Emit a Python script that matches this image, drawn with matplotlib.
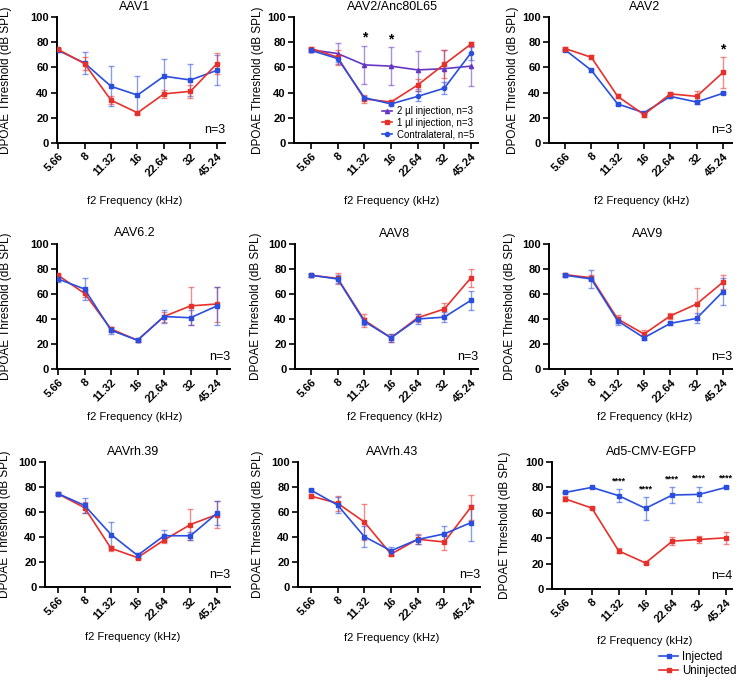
import matplotlib
matplotlib.use("Agg")
import matplotlib.pyplot as plt
import numpy as np

plt.rcParams['font.family'] = ['Liberation Sans', 'DejaVu Sans']

# ---------------- data ----------------
freqs = ["5.66", "8", "11.32", "16", "22.64", "32", "45.24"]

aav1_blue = [73.5, 63.5, 45, 38, 53, 50, 57.7]
aav1_blue_err = [1, 8.5, 16, 15, 14, 13, 12]
aav1_red = [74.3, 63, 34, 24, 39, 41, 63]
aav1_red_err = [1, 5, 3, 1, 3, 5, 8.5]

anc_purple = [74, 71, 62, 61, 58, 59, 61]
anc_purple_err = [1.5, 8.5, 15, 15, 15, 14.5, 15.5]
anc_red = [75, 68, 35, 32.5, 46, 62.5, 78.5]
anc_red_err = [1, 6, 3, 2, 5, 11, 1.5]
anc_blue = [73.5, 67, 36, 31, 37, 43.5, 71.5]
anc_blue_err = [1, 3, 1.5, 2, 4, 5, 6]
anc_labels = ["2 \u00b5l injection, n=3", "1 \u00b5l injection, n=3", "Contralateral, n=5"]

aav2_blue = [74, 57.7, 31, 24, 37, 32.5, 39.5]
aav2_blue_err = [1, 1, 1, 1, 1, 1.5, 1]
aav2_red = [75, 68, 37, 22.5, 39, 37, 56]
aav2_red_err = [1, 1.5, 1.5, 1.5, 1.5, 4.5, 12]

aav62_blue = [72, 64, 31, 23, 42, 41, 50.5]
aav62_blue_err = [2, 9, 3, 1, 5, 6, 15]
aav62_red = [75, 60.5, 32, 23, 42, 50.5, 52]
aav62_red_err = [1, 3, 2, 1, 4, 15, 14]

aav8_blue = [75, 72, 38, 25, 40, 41.5, 55]
aav8_blue_err = [1, 3, 3, 3, 4, 4, 7.5]
aav8_red = [75, 72.5, 39, 25, 41, 48, 73]
aav8_red_err = [1, 4.5, 5, 3, 3, 4.5, 7]

aav9_blue = [75, 72, 38.5, 25, 36.5, 40.5, 62]
aav9_blue_err = [1, 7, 3, 2, 1.5, 4, 11]
aav9_red = [75.5, 73, 40, 28, 42.5, 52, 69.5]
aav9_red_err = [1, 2, 3.5, 3, 2.5, 13, 5.5]

rh39_blue = [74.7, 65.3, 42, 25.3, 41, 41, 59]
rh39_blue_err = [1, 6, 10, 2, 4.5, 3, 9.5]
rh39_red = [74.5, 63.5, 31, 23.5, 37.5, 50, 58]
rh39_red_err = [1, 4.5, 2, 1, 2, 12.5, 10.5]

rh43_blue = [77.5, 65.5, 40.3, 29, 38, 42.5, 51.5]
rh43_blue_err = [1, 6.5, 8.5, 3, 3.5, 6, 14.5]
rh43_red = [72.7, 67, 52, 26.3, 38.2, 36, 64]
rh43_red_err = [1.5, 6, 14.5, 1.5, 4, 6, 10]

ad5_injected = [76, 80, 73.5, 63.5, 74, 74.5, 80]
ad5_injected_err = [0.5, 0.5, 5, 9, 6, 6, 0.8]
ad5_uninjected = [71, 63.7, 30, 20.5, 37.7, 39, 40.3]
ad5_uninjected_err = [2, 0.8, 2, 0.8, 3, 3, 4.5]
ad5_labels = ["Injected", "Uninjected"]

# ---------------- style ----------------
BLUE = '#2a4ee0'
RED = '#e8302b'
PURPLE = '#6636c4'
W, H = 741, 681

fig = plt.figure(figsize=(W / 100, H / 100), dpi=100)


def px_text(x, y, s, **kw):
    fig.text(x / W, 1 - y / H, s, **kw)


def make_panel(left, right, top, bottom, p0, p6):
    ax = fig.add_axes([left / W, 1 - bottom / H, (right - left) / W, (bottom - top) / H])
    sp = (p6 - p0) / 6.0
    ax.set_xlim((left - p0) / sp, (right - p0) / sp)
    ax.set_ylim(0, 100)
    for s in ['top', 'right']:
        ax.spines[s].set_visible(False)
    for s in ['left', 'bottom']:
        ax.spines[s].set_linewidth(1.4)
    ax.set_xticks(range(len(freqs)))
    ax.set_xticklabels(freqs, rotation=45, ha='right', rotation_mode='anchor',
                       fontsize=8, fontweight='bold')
    ax.set_yticks([0, 20, 40, 60, 80, 100])
    ax.set_yticklabels(['0', '20', '40', '60', '80', '100'], fontsize=8, fontweight='bold')
    ax.tick_params(axis='both', length=4, width=1.2, pad=2)
    return ax


def err_series(ax, vals, errs, color, marker='s', label=None):
    x = np.arange(len(vals))
    ax.errorbar(x, vals, yerr=errs, fmt='none', ecolor=color, elinewidth=1.0,
                capsize=2, capthick=1.0, alpha=0.55, zorder=2)
    ax.plot(x, vals, color=color, marker=marker, ms=3, lw=1.2, zorder=3, label=label)


def decorate(ax, title, tx, ty, ylx, xlx, xly, top, bottom, n=None):
    px_text(tx, ty, title, ha='center', va='center', fontsize=9)
    px_text(ylx, (top + bottom) / 2, "DPOAE Threshold (dB SPL)", rotation=90,
            ha='center', va='center', fontsize=8.5)
    px_text(xlx, xly, "f2 Frequency (kHz)", ha='center', va='center', fontsize=8)
    if n:
        ax.text(1.0, 0.1, n, transform=ax.transAxes, ha='right', va='center', fontsize=9)


# Row 1
ax = make_panel(57, 225, 17, 143, 58, 217)
err_series(ax, aav1_blue, aav1_blue_err, BLUE)
err_series(ax, aav1_red, aav1_red_err, RED)
decorate(ax, "AAV1", 135, 7, 6, 135, 201, 17, 143, "n=3")

ax = make_panel(294, 478, 17, 143, 311, 471)
err_series(ax, anc_purple, anc_purple_err, PURPLE, marker='^', label=anc_labels[0])
err_series(ax, anc_red, anc_red_err, RED, label=anc_labels[1])
err_series(ax, anc_blue, anc_blue_err, BLUE, marker='o', label=anc_labels[2])
for i in [2, 3]:
    ax.text(i, anc_purple[i] + anc_purple_err[i] + 1, "*", ha='center', va='bottom',
            fontsize=10, fontweight='bold')
ax.legend(loc='lower right', frameon=False, fontsize=7, handlelength=1.0,
          handletextpad=0.5, labelspacing=0.15, borderaxespad=0.2, borderpad=0.2)
decorate(ax, "AAV2/Anc80L65", 392, 7, 258, 392, 201, 17, 143)

ax = make_panel(549, 732, 17, 143, 565, 723)
err_series(ax, aav2_blue, aav2_blue_err, BLUE)
err_series(ax, aav2_red, aav2_red_err, RED)
ax.text(6, aav2_red[6] + aav2_red_err[6] + 1, "*", ha='center', va='bottom',
        fontsize=10, fontweight='bold')
decorate(ax, "AAV2", 645, 7, 513, 642, 201, 17, 143, "n=3")

# Row 2
ax = make_panel(57, 230, 244, 369, 58, 217)
err_series(ax, aav62_red, aav62_red_err, RED)
err_series(ax, aav62_blue, aav62_blue_err, BLUE)
decorate(ax, "AAV6.2", 135, 233, 6, 135, 417, 244, 369, "n=3")

ax = make_panel(295, 478, 244, 369, 311, 471)
err_series(ax, aav8_red, aav8_red_err, RED)
err_series(ax, aav8_blue, aav8_blue_err, BLUE)
decorate(ax, "AAV8", 395, 234, 256, 395, 417, 244, 369, "n=3")

ax = make_panel(549, 732, 244, 369, 565, 723)
err_series(ax, aav9_red, aav9_red_err, RED)
err_series(ax, aav9_blue, aav9_blue_err, BLUE)
decorate(ax, "AAV9", 648, 234, 510, 645, 417, 244, 369, "n=3")

# Row 3
ax = make_panel(45, 230, 462, 587, 58, 217)
err_series(ax, rh39_red, rh39_red_err, RED)
err_series(ax, rh39_blue, rh39_blue_err, BLUE)
decorate(ax, "AAVrh.39", 133, 452, 5, 133, 637, 462, 587, "n=3")

ax = make_panel(298, 480, 462, 587, 311, 471)
err_series(ax, rh43_red, rh43_red_err, RED)
err_series(ax, rh43_blue, rh43_blue_err, BLUE)
decorate(ax, "AAVrh.43", 392, 452, 258, 392, 638, 462, 587, "n=3")

ax = make_panel(552, 732, 462, 589, 565, 726)
err_series(ax, ad5_injected, ad5_injected_err, BLUE, label=ad5_labels[0])
err_series(ax, ad5_uninjected, ad5_uninjected_err, RED, label=ad5_labels[1])
for i in [2, 3, 4, 5, 6]:
    ax.text(i, ad5_injected[i] + ad5_injected_err[i] + 3, "****", ha='center',
            va='bottom', fontsize=6.5, fontweight='bold')
decorate(ax, "Ad5-CMV-EGFP", 652, 452, 505, 645, 641, 462, 589, "n=4")
handles, labels = ax.get_legend_handles_labels()
fig.legend(handles, labels, loc='upper left', bbox_to_anchor=(657 / W, 1 - 649 / H),
           frameon=False, fontsize=8.3, handlelength=1.6, handletextpad=0.4,
           labelspacing=0.15, borderaxespad=0.0, borderpad=0.2)

fig.savefig("out.png", dpi=100)
